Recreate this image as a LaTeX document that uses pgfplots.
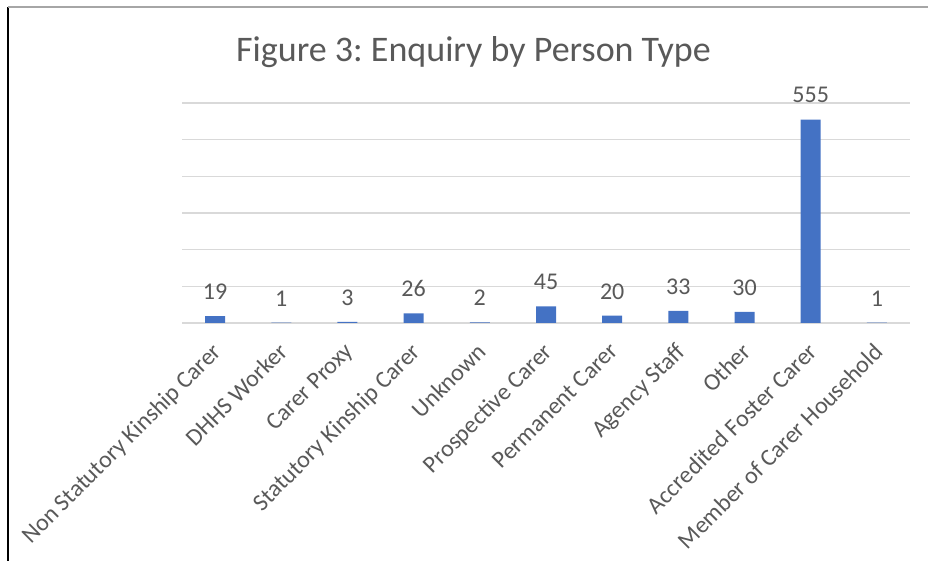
\documentclass[border=0pt]{standalone}
\usepackage{pgfplots}
\pgfplotsset{compat=1.18}
\usepackage{fontspec}
\setmainfont{Carlito}
\frenchspacing
\definecolor{barblue}{RGB}{68,114,196}
\definecolor{txtgray}{RGB}{89,89,89}
\definecolor{gridgray}{RGB}{217,217,217}
\begin{document}
\begin{tikzpicture}
\useasboundingbox (0,0) rectangle (464pt,280.5pt);
\draw[black, line width=1pt] (4pt,0) -- (4pt,277pt);
\draw[gray!70, line width=0.8pt] (4pt,277pt) -- (464pt,277pt);
\node[text=txtgray, font=\fontsize{18}{21}\selectfont, anchor=base] at (236.75pt,249.5pt) {Figure 3: Enquiry by Person Type};
\begin{axis}[
  at={(91pt,119pt)}, anchor=south west,
  scale only axis, width=364pt, height=110pt,
  xmin=-0.5, xmax=10.5, ymin=0, ymax=600,
  ytick={0,100,...,600}, yticklabels={},
  ymajorgrids, grid style={gridgray, line width=0.8pt},
  major tick length=0pt,
  axis line style={draw=none},
  xtick={0,...,10},
  xticklabels={Non Statutory Kinship Carer, DHHS Worker, Carer Proxy, Statutory Kinship Carer, Unknown, Prospective Carer, Permanent Carer, Agency Staff, Other, Accredited Foster Carer, Member of Carer Household},
  xticklabel style={xshift=-2pt, yshift=-9pt, rotate=45, anchor=north east, text=txtgray, font=\fontsize{12}{14}\selectfont, inner sep=0pt},
  ybar, bar width=10pt,
  nodes near coords,
  /pgf/number format/assume math mode=true,
  every node near coord/.append style={text=txtgray, font=\fontsize{12}{14}\selectfont, inner sep=0pt, yshift=8pt},
]
\addplot[fill=barblue, draw=none] coordinates {
(0,19) (1,1) (2,3) (3,26) (4,2) (5,45) (6,20) (7,33) (8,30) (9,555) (10,1)
};
\end{axis}
\end{tikzpicture}
\end{document}
